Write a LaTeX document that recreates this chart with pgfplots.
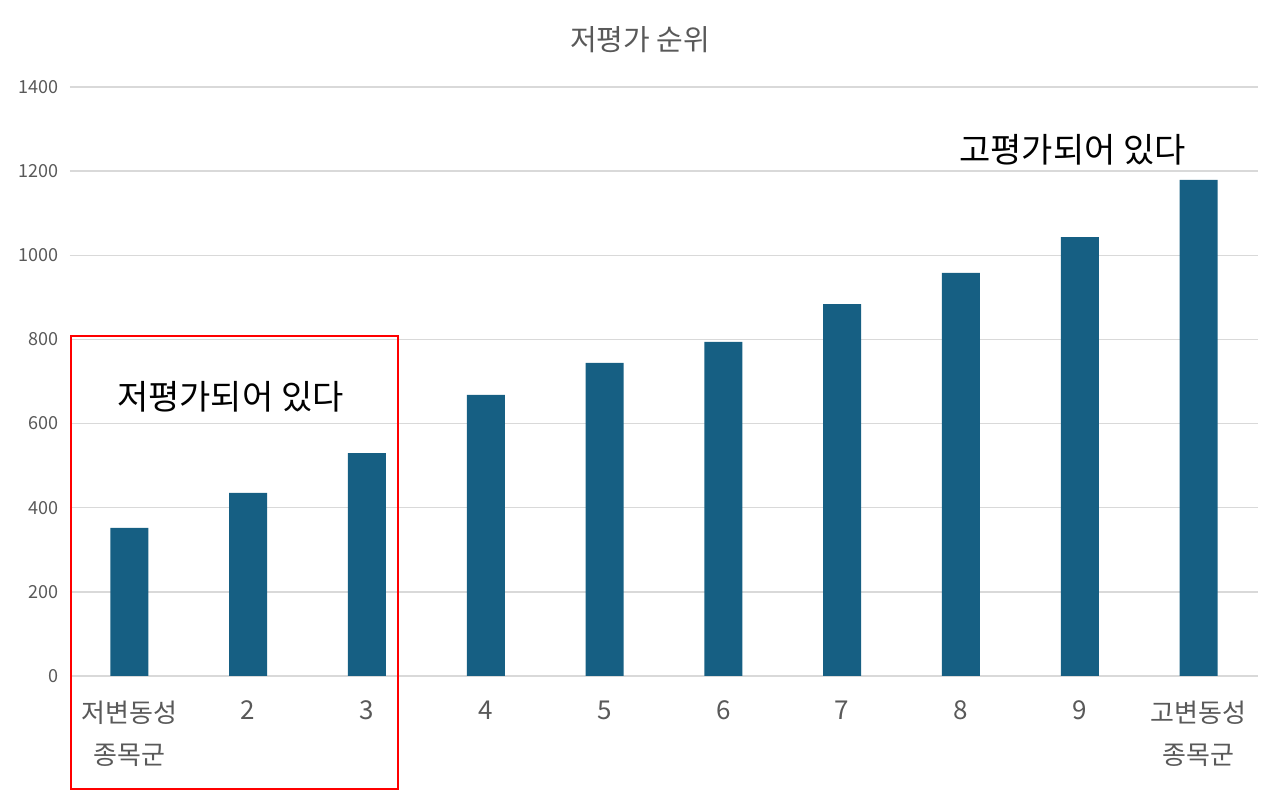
\documentclass[border=0pt]{standalone}
\usepackage{fontspec}
\setmainfont{Noto Sans CJK KR}
\usepackage{pgfplots}
\pgfplotsset{compat=1.18}
\definecolor{barc}{HTML}{165F83}
\definecolor{txtg}{HTML}{595959}
\definecolor{gridg}{HTML}{D9D9D9}
\begin{document}
\begin{tikzpicture}
\path[use as bounding box] (-35pt,-57pt) rectangle (605pt,338pt);
\begin{axis}[
  at={(0,0)}, anchor=south west,
  scale only axis, width=594pt, height=294.5pt,
  xmin=-0.5, xmax=9.5, ymin=0, ymax=1400,
  ytick={0,200,...,1400},
  xtick={0,...,9},
  xticklabels={{저변동성\\종목군},2,3,4,5,6,7,8,9,{고변동성\\종목군}},
  xticklabel style={align=center, font=\fontsize{13}{21}\selectfont, text=txtg, anchor=north, yshift=-9pt},
  yticklabel style={font=\fontsize{9}{10}\selectfont, text=txtg, xshift=-2pt},
  /pgf/number format/assume math mode=true,
  /pgf/number format/1000 sep={},
  scaled y ticks=false,
  ymajorgrids, grid style={gridg, line width=0.7pt},
  axis line style={draw=none},
  major tick length=0pt,
  clip=false,
]
\addplot[ybar, bar width=19pt, fill=barc, draw=none] coordinates {
(0,352) (1,435) (2,530) (3,668) (4,744) (5,794) (6,884) (7,958) (8,1043) (9,1179)};
\draw[red, line width=1.3pt] (axis cs:-0.49,808) rectangle (axis cs:2.26,-269);
\node[font=\fontsize{17}{20}\selectfont, black] at (axis cs:0.85,663) {저평가되어 있다};
\node[font=\fontsize{17}{20}\selectfont, black] at (axis cs:7.94,1250) {고평가되어 있다};
\node[font=\fontsize{14.5}{17}\selectfont, text=txtg] at (rel axis cs:0.48,1.08) {저평가 순위};
\end{axis}
\end{tikzpicture}
\end{document}
